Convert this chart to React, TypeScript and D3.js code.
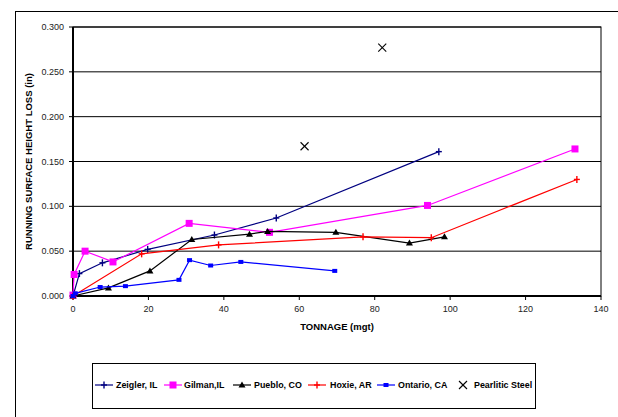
import React from 'react';
import * as d3 from 'd3';

// Data (tonnage in mgt, height loss in inches)
const zeiglerX = [0, 1.7, 7.8, 19.8, 37.5, 53.9, 97.0];
const zeiglerY = [0, 0.025, 0.037, 0.052, 0.068, 0.087, 0.161];

const gilmanX = [0, 0.3, 3.2, 10.6, 30.8, 52.1, 94.0, 133.1];
const gilmanY = [0.001, 0.024, 0.050, 0.038, 0.081, 0.071, 0.101, 0.164];

const puebloX = [0, 9.4, 20.4, 31.5, 46.8, 51.6, 69.7, 89.2, 98.5];
const puebloY = [0, 0.009, 0.028, 0.063, 0.069, 0.072, 0.071, 0.059, 0.066];

const hoxieX = [0, 18.2, 38.6, 76.9, 95.0, 133.6];
const hoxieY = [0, 0.047, 0.057, 0.066, 0.065, 0.130];

const ontarioX = [0, 0.6, 7.2, 13.9, 28.1, 30.9, 36.5, 44.5, 69.4];
const ontarioY = [0, 0.003, 0.010, 0.011, 0.018, 0.040, 0.034, 0.038, 0.028];

const pearliticX = [61.4, 82.0];
const pearliticY = [0.167, 0.277];

const xTicks = [0, 20, 40, 60, 80, 100, 120, 140];
const yTicks = [0, 0.05, 0.1, 0.15, 0.2, 0.25, 0.3];

type Marker = 'plus' | 'square' | 'triangle' | 'dash' | 'cross';

interface Series {
  name: string;
  xs: number[];
  ys: number[];
  color: string;
  marker: Marker;
  line: boolean;
}

const series: Series[] = [
  { name: 'Zeigler, IL', xs: zeiglerX, ys: zeiglerY, color: '#000080', marker: 'plus', line: true },
  { name: 'Gilman,IL', xs: gilmanX, ys: gilmanY, color: '#ff00ff', marker: 'square', line: true },
  { name: 'Pueblo, CO', xs: puebloX, ys: puebloY, color: '#000000', marker: 'triangle', line: true },
  { name: 'Hoxie, AR', xs: hoxieX, ys: hoxieY, color: '#ff0000', marker: 'plus', line: true },
  { name: 'Ontario, CA', xs: ontarioX, ys: ontarioY, color: '#0000ff', marker: 'dash', line: true },
  { name: 'Pearlitic Steel', xs: pearliticX, ys: pearliticY, color: '#000000', marker: 'cross', line: false },
];

const FONT = '"Liberation Sans", Arial, sans-serif';

function drawMarker(m: Marker, x: number, y: number, color: string, key: string) {
  switch (m) {
    case 'plus':
      return (
        <g key={key} stroke={color} strokeWidth={1.4}>
          <line x1={x - 3} y1={y} x2={x + 3} y2={y} />
          <line x1={x} y1={y - 3.5} x2={x} y2={y + 3.5} />
        </g>
      );
    case 'square':
      return <rect key={key} x={x - 3.5} y={y - 3.5} width={7} height={7} fill={color} />;
    case 'triangle':
      return (
        <path key={key} d={`M${x},${y - 3.5}L${x + 3.5},${y + 2.5}L${x - 3.5},${y + 2.5}Z`} fill={color} />
      );
    case 'dash':
      return <rect key={key} x={x - 2.5} y={y - 2} width={5} height={4} fill={color} />;
    case 'cross':
      return (
        <g key={key} stroke={color} strokeWidth={1.1}>
          <line x1={x - 4} y1={y - 4} x2={x + 4} y2={y + 4} />
          <line x1={x - 4} y1={y + 4} x2={x + 4} y2={y - 4} />
        </g>
      );
  }
}

export default function App() {
  const width = 618;
  const height = 417;
  const left = 73;
  const right = 601;
  const top = 27;
  const bottom = 296;

  const x = d3.scaleLinear().domain([0, 140]).range([left, right]);
  const y = d3.scaleLinear().domain([0, 0.3]).range([bottom, top]);

  const line = d3
    .line<[number, number]>()
    .x((d) => x(d[0]))
    .y((d) => y(d[1]));

  // legend layout
  const legendItems = [
    { lx: 95, tx: 116 },
    { lx: 164, tx: 184 },
    { lx: 233, tx: 254 },
    { lx: 308, tx: 330 },
    { lx: 377, tx: 398 },
    { lx: 455, tx: 474 },
  ];
  const legendY = 385;

  return (
    <svg
      width={width}
      height={height}
      style={{ position: 'absolute', left: 0, top: 0, background: '#fff' }}
      fontFamily={FONT}
    >
      <rect x={15.5} y={11.5} width={620} height={420} fill="none" stroke="#000" strokeWidth={1} />

      {/* gridlines */}
      {yTicks.map((t) => (
        <line key={`g${t}`} x1={left} x2={right} y1={y(t)} y2={y(t)} stroke="#000" strokeWidth={1} />
      ))}

      {/* plot border */}
      <rect x={left} y={top} width={right - left} height={bottom - top} fill="none" stroke="#000" strokeWidth={1} />
      <line x1={left} x2={left} y1={top} y2={bottom} stroke="#000" strokeWidth={2} />
      <line x1={left} x2={right} y1={bottom} y2={bottom} stroke="#000" strokeWidth={2} />

      {/* y ticks */}
      {yTicks.map((t) => (
        <g key={`yt${t}`}>
          <line x1={left - 4} x2={left} y1={y(t)} y2={y(t)} stroke="#000" />
          <text x={left - 9} y={y(t)} dy="0.35em" textAnchor="end" fontSize={9} fill="#222">
            {d3.format('.3f')(t)}
          </text>
        </g>
      ))}

      {/* x ticks */}
      {xTicks.map((t) => (
        <g key={`xt${t}`}>
          <line x1={x(t)} x2={x(t)} y1={bottom} y2={bottom + 4} stroke="#000" />
          <text x={x(t)} y={bottom + 16} textAnchor="middle" fontSize={9} fill="#222">
            {t}
          </text>
        </g>
      ))}

      <text x={(left + right) / 2} y={330} textAnchor="middle" fontSize={9.5} fontWeight="bold">
        TONNAGE (mgt)
      </text>
      <text
        transform={`translate(32,${(top + bottom) / 2}) rotate(-90)`}
        textAnchor="middle"
        fontSize={9.5}
        fontWeight="bold"
      >
        RUNNING SURFACE HEIGHT LOSS (in)
      </text>

      {/* series */}
      {series.map((s) => {
        const pts: [number, number][] = s.xs.map((v, i) => [v, s.ys[i]]);
        return (
          <g key={s.name}>
            {s.line && <path d={line(pts) || ''} fill="none" stroke={s.color} strokeWidth={1.2} />}
            {pts.map((p, i) => drawMarker(s.marker, x(p[0]), y(p[1]), s.color, `${s.name}${i}`))}
          </g>
        );
      })}

      {/* legend */}
      <rect x={92.5} y={363.5} width={443} height={45} fill="#fff" stroke="#000" strokeWidth={1} />
      {series.map((s, i) => {
        const it = legendItems[i];
        return (
          <g key={`lg${s.name}`}>
            {s.line && (
              <line x1={it.lx} x2={it.lx + 18} y1={legendY} y2={legendY} stroke={s.color} strokeWidth={1.2} />
            )}
            {drawMarker(s.marker, s.line ? it.lx + 9 : it.lx + 8, legendY, s.color, `lm${i}`)}
            <text x={it.tx} y={legendY} dy="0.35em" fontSize={8.9} fontWeight="bold">
              {s.name}
            </text>
          </g>
        );
      })}
    </svg>
  );
}
